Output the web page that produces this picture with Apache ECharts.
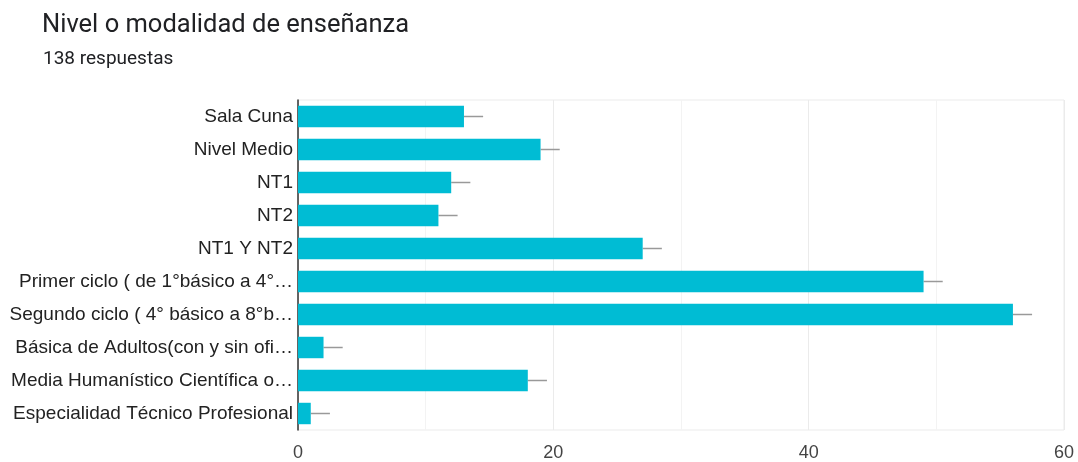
<!DOCTYPE html>
<html>
<head>
<meta charset="utf-8">
<script src="https://cdn.jsdelivr.net/npm/echarts@6/dist/echarts.min.js"></script>
<style>
  html, body { margin: 0; padding: 0; background: #fff; }
  #chart { width: 1078px; height: 462px; }
</style>
</head>
<body>
<div id="chart"></div>
<script>
// Response categories (top to bottom) and counts
const categories = [
  'Sala Cuna',
  'Nivel Medio',
  'NT1',
  'NT2',
  'NT1 Y NT2',
  'Primer ciclo ( de 1°básico a 4°…',
  'Segundo ciclo ( 4° básico a 8°b…',
  'Básica de Adultos(con y sin ofi…',
  'Media Humanístico Científica o…',
  'Especialidad Técnico Profesional'
];
const counts = [13, 19, 12, 11, 27, 49, 56, 2, 18, 1];
const xTicks = [0, 20, 40, 60];

const chart = echarts.init(document.getElementById('chart'), null, { renderer: 'canvas' });

const WHISKER = 1.5; // extent of the thin grey tick past each bar end
const LABEL_FONT = 'Arial, "Liberation Sans", sans-serif';

chart.setOption({
  animation: false,
  backgroundColor: '#ffffff',
  title: [
    {
      text: 'Nivel o modalidad de enseñanza',
      left: 37, top: 8,
      textStyle: { fontFamily: 'Roboto', fontSize: 25.5, fontWeight: 'normal', color: '#202124' }
    },
    {
      text: '138 respuestas',
      left: 38, top: 45,
      textStyle: { fontFamily: 'Roboto', fontSize: 19, fontWeight: 'normal', color: '#202124' }
    }
  ],
  grid: { left: 298, right: 14, top: 100, bottom: 32, show: true, borderColor: '#ebebeb', borderWidth: 1 },
  xAxis: {
    type: 'value',
    min: xTicks[0], max: xTicks[xTicks.length - 1], interval: 20,
    axisLine: { show: false },
    axisTick: { show: false },
    axisLabel: { fontFamily: LABEL_FONT, fontSize: 18, color: '#444', margin: 14 },
    splitLine: { show: true, lineStyle: { color: '#ebebeb', width: 1 } },
    minorTick: { show: false, splitNumber: 2 },
    minorSplitLine: { show: true, lineStyle: { color: '#f3f3f3', width: 1 } }
  },
  yAxis: {
    type: 'category',
    data: categories,
    inverse: true,
    axisLine: { show: true, onZero: false, lineStyle: { color: '#333', width: 1.5 } },
    axisTick: { show: false },
    axisLabel: { fontFamily: LABEL_FONT, fontSize: 19, color: '#222', margin: 5 },
    splitLine: { show: false }
  },
  series: [
    {
      type: 'bar',
      data: counts,
      barCategoryGap: '35%',
      itemStyle: { color: '#00bcd4' },
      z: 3
    },
    {
      type: 'custom',
      z: 2,
      data: counts.map((v, i) => [v, i]),
      renderItem: function (params, api) {
        const v = api.value(0);
        const c = api.value(1);
        const p0 = api.coord([v, c]);
        const p1 = api.coord([v + WHISKER, c]);
        return {
          type: 'line',
          shape: { x1: p0[0], y1: p0[1], x2: p1[0], y2: p1[1] },
          style: { stroke: '#999', lineWidth: 1.5 }
        };
      }
    }
  ]
});
</script>
</body>
</html>
